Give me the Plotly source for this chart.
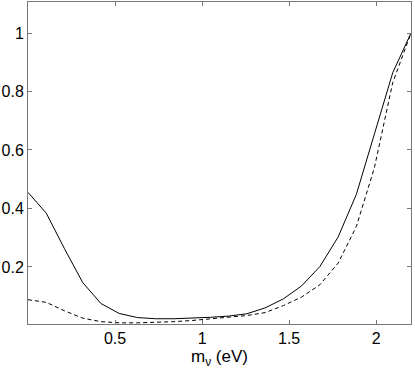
import plotly.graph_objects as go

# -------------------- DATA --------------------
m_nu = [0.0, 0.105, 0.21, 0.314, 0.419, 0.524, 0.629, 0.733, 0.838, 0.943, 1.048,
        1.152, 1.257, 1.362, 1.467, 1.571, 1.676, 1.781, 1.886, 1.99, 2.095, 2.2]

solid_y = [0.455, 0.384, 0.262, 0.147, 0.075, 0.041, 0.027, 0.023, 0.023, 0.025, 0.028,
           0.032, 0.040, 0.060, 0.091, 0.135, 0.201, 0.302, 0.448, 0.655, 0.864, 1.0]

dashed_y = [0.088, 0.079, 0.050, 0.025, 0.013, 0.009, 0.009, 0.010, 0.013, 0.017, 0.023,
            0.029, 0.034, 0.044, 0.068, 0.097, 0.139, 0.213, 0.338, 0.54, 0.83, 1.0]

x_ticks = [0.5, 1, 1.5, 2]
y_ticks = [0.2, 0.4, 0.6, 0.8, 1]

FONT = 'Liberation Sans, Arial, sans-serif'

# -------------------- FIGURE --------------------
fig = go.Figure()

fig.add_trace(go.Scatter(
    x=m_nu,
    y=solid_y,
    mode='lines',
    line=dict(color='black', width=1),
    name='solid'
))

fig.add_trace(go.Scatter(
    x=m_nu,
    y=dashed_y,
    mode='lines',
    line=dict(color='black', width=1, dash='4px,3px'),
    name='dashed'
))

axis_style = dict(
    showgrid=False,
    zeroline=False,
    showline=True,
    linecolor='#777777',
    linewidth=1,
    mirror='ticks',
    ticks='inside',
    ticklen=4,
    tickcolor='#777777',
    automargin=False,
    tickfont=dict(family=FONT, size=16, color='black'),
)

fig.update_layout(
    width=415,
    height=374,
    paper_bgcolor='white',
    plot_bgcolor='white',
    showlegend=False,
    margin=dict(l=28, r=4, t=2, b=50),
    xaxis=dict(
        range=[0, 2.2],
        tickvals=x_ticks,
        ticktext=['0.5', '1', '1.5', '2'],
        title=dict(
            text='m<sub>ν</sub> (eV)',
            font=dict(family=FONT, size=17, color='black'),
            standoff=0
        ),
        **axis_style
    ),
    yaxis=dict(
        range=[0.005, 1.106],
        tickvals=y_ticks,
        ticktext=['0.2', '0.4', '0.6', '0.8', '1'],
        **axis_style
    ),
)

# page body has a default 8px margin; drop it so the figure sits at the corner
fig.write_html(
    "out.html",
    config={'displayModeBar': False},
    post_script="document.body.style.margin='0';"
)
